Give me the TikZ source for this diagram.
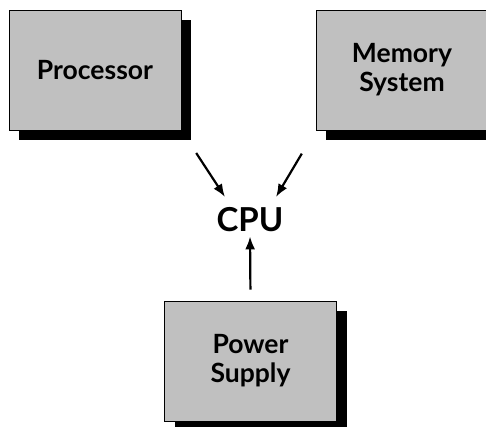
\documentclass[tikz,border=0pt]{standalone}
\usepackage{fontspec}
\setmainfont{Lato}
\usepackage{xcolor}
\usetikzlibrary{arrows.meta,positioning,calc,shadows}

\definecolor{boxgray}{HTML}{C0C0C0}

\begin{document}
\begin{tikzpicture}[
  x=1pt, y=-1pt,
  unit/.style={draw, line width=0.8pt, fill=boxgray, minimum width=172pt,
               minimum height=120pt, font=\bfseries\fontsize{26.5}{29}\selectfont,
               align=center, inner sep=0pt,
               drop shadow={shadow xshift=10pt, shadow yshift=-10pt,
                            opacity=1, fill=black}},
  arr/.style={-{Latex[length=13pt, width=10pt]}, line width=2.2pt}
]
  \useasboundingbox (0,0) rectangle (486,426);

  % the three units
  \node[unit] (proc) at (95,70) {Processor};
  \node[unit] (mem) at (402,70) {Memory\\System};
  \node[unit] (power) at (250.5,361) {Power\\Supply};
  \node[font=\bfseries\fontsize{33}{36}\selectfont, inner sep=0pt] (cpu) at (250,220) {CPU};

  % arrows into the CPU
  \draw[arr, shorten <=27pt] (proc.south east) -- ($(cpu)+(-25,-23)$);
  \draw[arr, shorten <=27pt] (mem.south west) -- ($(cpu)+(26,-23)$);
  \draw[arr, shorten <=11pt, shorten >=4pt] (power.north) -- (cpu.south);
\end{tikzpicture}
\end{document}
